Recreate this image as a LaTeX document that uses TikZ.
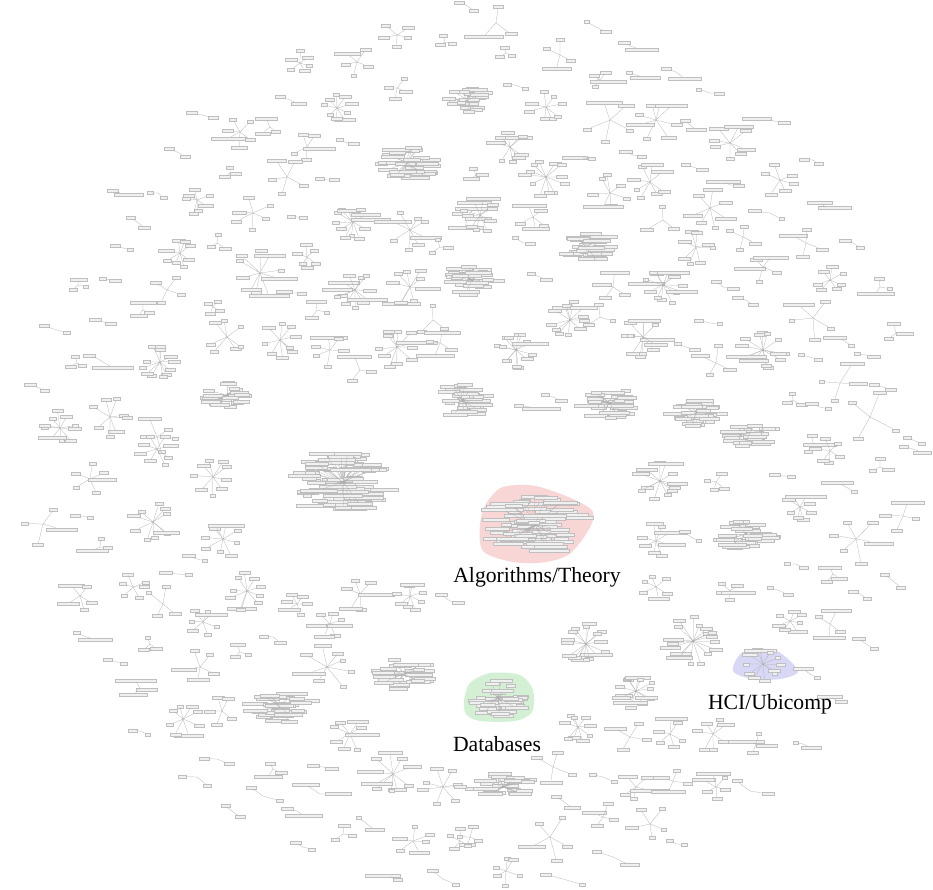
\documentclass[tikz,border=0pt]{standalone}
\usepackage{fontspec}
\setmainfont{Liberation Serif}
\usepackage{tikz}
\usetikzlibrary{calc}

\definecolor{algofill}{RGB}{248,214,214}
\definecolor{dbfill}{RGB}{212,240,212}
\definecolor{hcifill}{RGB}{216,216,246}

\tikzset{
  leaf/.style={draw=gray!50,fill=gray!12,line width=0.15pt,inner sep=0pt,minimum height=0.9mm},
  link/.style={draw=gray!65,line width=0.2pt},
  tag/.style={font=\fontsize{18.5}{22}\selectfont,inner sep=0pt}
}

% star of labels round one hub: x, y, leaves, radius
\newcommand{\clus}[4]{%
  \coordinate (hub) at (#1,#2);
  \foreach \k in {1,...,#3}{
    \pgfmathsetmacro{\ang}{360*\k/#3+40*rnd}
    \pgfmathsetmacro{\dd}{#4*(0.65+0.35*rnd)}
    \pgfmathsetmacro{\ww}{5+8*rnd+(rnd>0.8)*30*rnd}
    \node[leaf,minimum width=\ww*0.3mm] (lf\k) at ($(hub)+(\ang:\dd)$) {};
    \draw[link] (hub) -- (lf\k);
  }
}
% dense clump: x, y, width, height, boxes
\newcommand{\blob}[5]{%
  \coordinate (core) at (#1,#2);
  \foreach \k in {1,...,#5}{
    \pgfmathsetmacro{\ang}{360*rnd}
    \pgfmathsetmacro{\rr}{sqrt(rnd)}
    \pgfmathsetmacro{\bx}{#1+0.4*#3*\rr*cos(\ang)}
    \pgfmathsetmacro{\by}{#2+0.45*#4*\rr*sin(\ang)}
    \pgfmathsetmacro{\ww}{8+0.35*#3*rnd}
    \node[leaf,minimum width=\ww*0.3mm] (bx\k) at (\bx,\by) {};
    \draw[link] (core) -- (bx\k);
  }
}

\begin{document}
\begin{tikzpicture}[x=0.03cm,y=-0.03cm]
  \pgfmathsetseed{4}
  \fill[white] (0,0) rectangle (933,889);
  \useasboundingbox (0,0) rectangle (933,889);

  % coloured groups
  \fill[algofill] plot[smooth cycle] coordinates {(486,504) (503,487) (540,487) (593,512) (573,551) (546,562) (513,562) (483,551) (480,524)};
  \fill[dbfill] plot[smooth cycle] coordinates {(464,700) (470,683) (490,673) (520,675) (533,690) (532,712) (515,721) (480,721) (466,714)};
  \fill[hcifill] plot[smooth cycle] coordinates {(733,671) (743,652) (775,650) (798,671) (780,679) (753,679)};

  % dense clumps
  \foreach \x/\y/\w/\h/\n in {468/100/50/28/22, 407/163/65/35/30, 472/280/55/35/26,
      227/395/50/30/22, 462/400/55/35/28, 586/247/60/35/28, 610/403/65/35/30,
      696/413/55/30/25, 750/433/55/30/25, 343/482/100/70/80, 403/674/60/35/30,
      280/707/65/35/30, 746/534/60/35/28, 503/787/60/30/25,
      535/525/100/65/75, 498/698/62/40/35}
    \blob{\x}{\y}{\w}{\h}{\n};

  % stars and pairs
  \foreach \x/\y/\n/\r in {397/35/5/15, 445/42/3/8, 300/63/6/12, 357/62/5/15, 397/88/4/12,
      290/100/2/14, 337/108/9/15, 202/115/2/12, 240/132/6/18, 270/127/3/10, 307/147/5/15,
      347/143/2/10, 177/152/2/10, 230/173/3/8, 287/177/5/20, 327/180/2/10, 120/193/2/10,
      158/193/2/10, 197/200/7/14, 253/213/6/20, 297/217/2/8, 353/222/12/18, 410/230/8/20,
      467/217/4/12, 137/222/2/10, 440/247/3/10, 123/248/2/10, 180/253/8/15, 217/243/3/10,
      307/257/6/12, 260/273/10/25, 355/290/12/20, 410/287/9/20, 78/285/3/8, 110/280/2/8,
      167/290/4/15, 213/307/4/8, 293/293/2/10, 317/310/3/10, 433/320/3/20, 143/310/3/8,
      57/330/2/15, 103/322/2/10, 227/337/7/20, 280/340/9/18, 330/350/6/18, 397/347/11/22,
      440/343/4/15, 100/360/2/18, 77/363/3/8, 160/362/12/18, 360/370/3/15, 37/387/2/10,
      60/428/10/18, 110/417/8/20, 157/437/5/20}
    \clus{\x}{\y}{\n}{\r};
  \foreach \x/\y/\n/\r in {466/5/2/10, 496/23/3/20, 596/27/2/12, 506/53/3/8, 560/55/4/18,
      633/47/2/10, 600/80/4/10, 636/75/2/10, 676/72/2/12, 515/85/2/12, 710/93/2/12,
      546/107/8/18, 610/120/5/25, 656/120/8/22, 690/125/2/10, 770/120/2/15, 510/147/9/18,
      730/143/8/20, 583/158/2/10, 633/155/2/10, 813/160/2/10, 476/175/3/8, 546/177/12/22,
      650/182/8/18, 693/167/2/10, 780/180/6/18, 730/185/2/10, 610/193/7/20, 480/215/10/18,
      533/217/5/15, 710/208/7/20, 770/213/2/18, 826/207/2/10, 663/220/3/20, 523/243/2/10,
      696/247/8/18, 743/237/4/15, 806/243/4/18, 853/243/2/12, 540/277/2/10, 613/287/4/15,
      663/285/14/20, 723/287/2/10, 763/267/5/15, 746/300/2/10, 830/280/7/15, 880/287/3/10,
      570/320/12/20, 600/317/3/15, 643/337/12/20, 710/323/2/12, 813/318/5/25, 516/350/14/20,
      686/347/2/10, 716/363/4/18, 763/350/14/22, 810/357/2/10, 843/340/2/12, 866/355/2/12,
      896/333/3/12, 530/407/2/12, 553/397/2/12, 793/400/3/10, 820/407/2/12, 840/383/4/25,
      883/387/2/10, 870/417/4/30, 913/440/2/10, 813/443/3/10}
    \clus{\x}{\y}{\n}{\r};
  \foreach \x/\y/\n/\r in {157/449/8/18, 90/479/6/18, 213/477/9/20, 43/524/4/25, 83/516/2/10,
      153/522/10/22, 223/539/9/20, 100/547/3/10, 197/559/2/10, 177/574/2/12, 80/596/5/15,
      133/587/6/15, 163/604/4/20, 247/591/10/20, 297/604/6/12, 330/624/7/15, 360/594/6/18,
      410/596/8/15, 450/601/2/12, 203/622/7/15, 87/637/2/12, 150/644/3/10, 273/637/2/12,
      240/652/3/10, 117/662/2/10, 200/667/5/18, 327/667/8/25, 140/689/3/10, 183/719/8/18,
      222/711/5/15, 350/734/8/18, 140/731/2/10, 217/759/2/15, 197/777/2/15, 273/769/3/10,
      323/767/2/10, 393/774/10/25, 443/787/8/22, 263/796/2/20, 320/794/2/20, 233/812/2/10,
      297/811/2/12, 367/824/2/12, 343/834/3/10, 413/841/6/18, 460/841/4/12, 303/847/2/10,
      390/877/2/12, 443/879/2/15}
    \clus{\x}{\y}{\n}{\r};
  \foreach \x/\y/\n/\r in {830/451/6/15, 913/449/2/12, 660/481/12/22, 716/482/4/12, 783/476/2/10,
      880/467/3/10, 846/487/2/10, 800/507/8/15, 903/516/4/18, 656/541/8/18, 691/537/2/10,
      856/539/6/25, 796/564/2/10, 833/574/3/10, 860/594/2/10, 893/581/2/12, 656/587/6/15,
      730/591/5/12, 780/591/2/12, 790/621/7/15, 830/624/4/15, 866/644/2/10, 586/644/16/22,
      693/641/18/25, 810/674/2/10, 636/691/14/18, 578/727/9/15, 630/737/4/18, 670/734/6/15,
      713/734/7/18, 756/744/4/12, 803/744/2/10, 836/700/2/8, 553/767/4/22, 603/777/2/12,
      636/787/5/15, 673/781/4/15, 716/787/6/15, 750/791/2/20, 563/801/2/12, 603/817/4/15,
      650/824/5/20, 550/837/5/25, 470/837/4/12, 676/844/2/10, 613/857/2/20, 506/871/6/15,
      563/879/2/20, 763/664/12/18}
    \clus{\x}{\y}{\n}{\r};

  % group names
  \node[tag] (algo) at (537,577) {Algorithms/Theory};
  \node[tag] (dbs) at (497,744) {Databases};
  \node[tag] (hci) at (770,704) {HCI/Ubicomp};
\end{tikzpicture}
\end{document}
